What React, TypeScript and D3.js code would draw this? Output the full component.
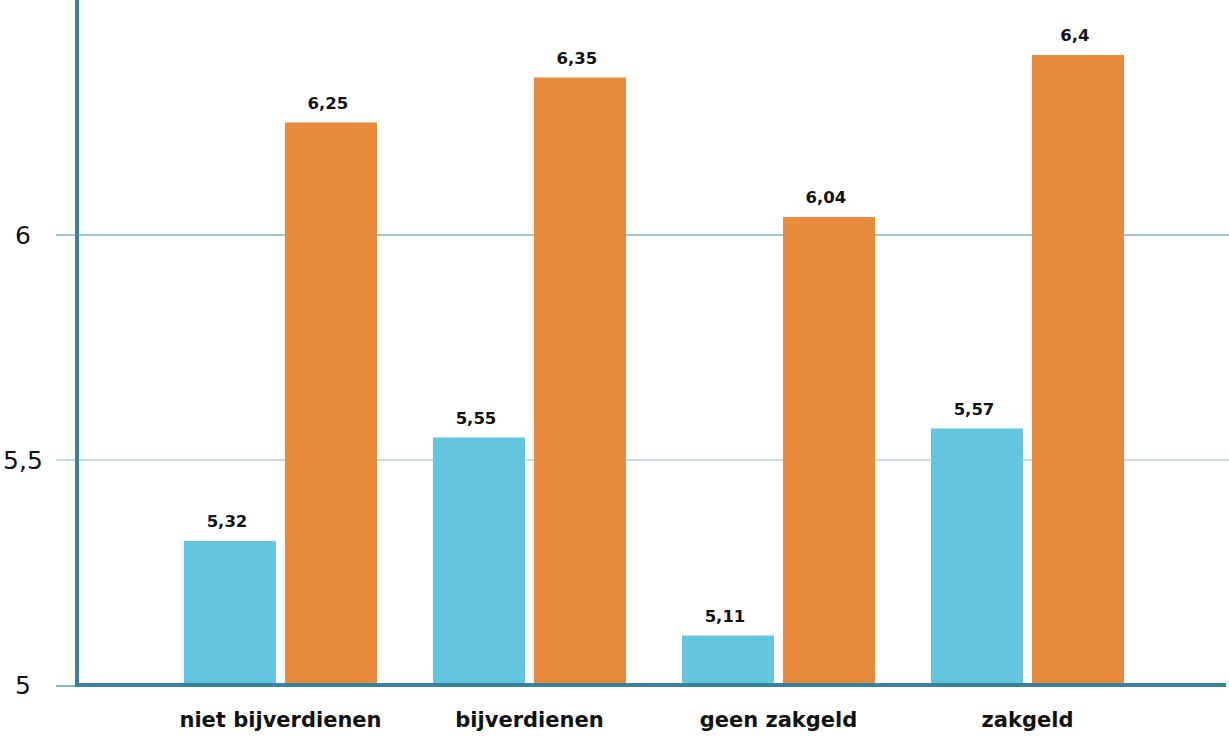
import React from "react";
import * as d3 from "d3";

const categories = ["niet bijverdienen", "bijverdienen", "geen zakgeld", "zakgeld"];
const seriesKeys = ["blauw", "oranje"];
const blueValues = [5.32, 5.55, 5.11, 5.57];
const orangeValues = [6.25, 6.35, 6.04, 6.4];
const yTicks = [5, 5.5, 6];

const W = 1229;
const H = 736;

const fmt = (v: number) => String(v).replace(".", ",");

export default function App() {
  const x = d3
    .scaleBand<string>()
    .domain(categories)
    .range([156, 1152])
    .paddingInner(0.225)
    .paddingOuter(0.1125);
  const xInner = d3
    .scaleBand<string>()
    .domain(seriesKeys)
    .range([0, x.bandwidth()])
    .paddingInner(0.089);
  const y = d3.scaleLinear().domain([5, 6]).range([685, 235]);

  const colors: Record<string, string> = { blauw: "#64c5e0", oranje: "#e88b3c" };
  const series: Record<string, number[]> = { blauw: blueValues, oranje: orangeValues };
  const axisColor = "#3a829b";
  const font = "'DejaVu Sans', sans-serif";

  return (
    <svg
      width={W}
      height={H}
      style={{ position: "absolute", left: 0, top: 0, background: "#fff" }}
    >
      {/* gridlines */}
      {yTicks
        .filter((t) => t !== 5)
        .map((t) => (
          <line
            key={"g" + t}
            x1={56}
            x2={W}
            y1={y(t)}
            y2={y(t)}
            stroke={t === 6 ? "#4a8aa0" : "#8fbccc"}
            strokeWidth={1.2}
          />
        ))}
      {/* bars */}
      {categories.map((c, i) => (
        <g key={c} transform={`translate(${x(c)},0)`}>
          {seriesKeys.map((k) => {
            const v = series[k][i];
            const bx = xInner(k)!;
            return (
              <g key={k}>
                <rect
                  x={bx}
                  y={y(v)}
                  width={xInner.bandwidth()}
                  height={y(5) - y(v)}
                  fill={colors[k]}
                />
                <text
                  x={bx + xInner.bandwidth() / 2 - 3}
                  y={y(v) - 14}
                  textAnchor="middle"
                  fontFamily={font}
                  fontWeight={700}
                  fontSize={16.5}
                  fill="#111"
                >
                  {fmt(v)}
                </text>
              </g>
            );
          })}
          <text
            x={x.bandwidth() / 2}
            y={727}
            textAnchor="middle"
            fontFamily={font}
            fontWeight={700}
            fontSize={21}
            fill="#111"
          >
            {c}
          </text>
        </g>
      ))}
      {/* y axis */}
      <line x1={77} x2={77} y1={0} y2={687} stroke={axisColor} strokeWidth={4} />
      <line x1={56} x2={77} y1={686} y2={686} stroke={axisColor} strokeWidth={1.2} />
      <line x1={75} x2={1226} y1={685} y2={685} stroke={axisColor} strokeWidth={4} />
      {yTicks.map((t) => (
        <text
          key={"t" + t}
          x={23}
          y={y(t)}
          dy="0.36em"
          textAnchor="middle"
          fontFamily={font}
          fontWeight={400}
          fontSize={25}
          fill="#111"
        >
          {fmt(t)}
        </text>
      ))}
    </svg>
  );
}
